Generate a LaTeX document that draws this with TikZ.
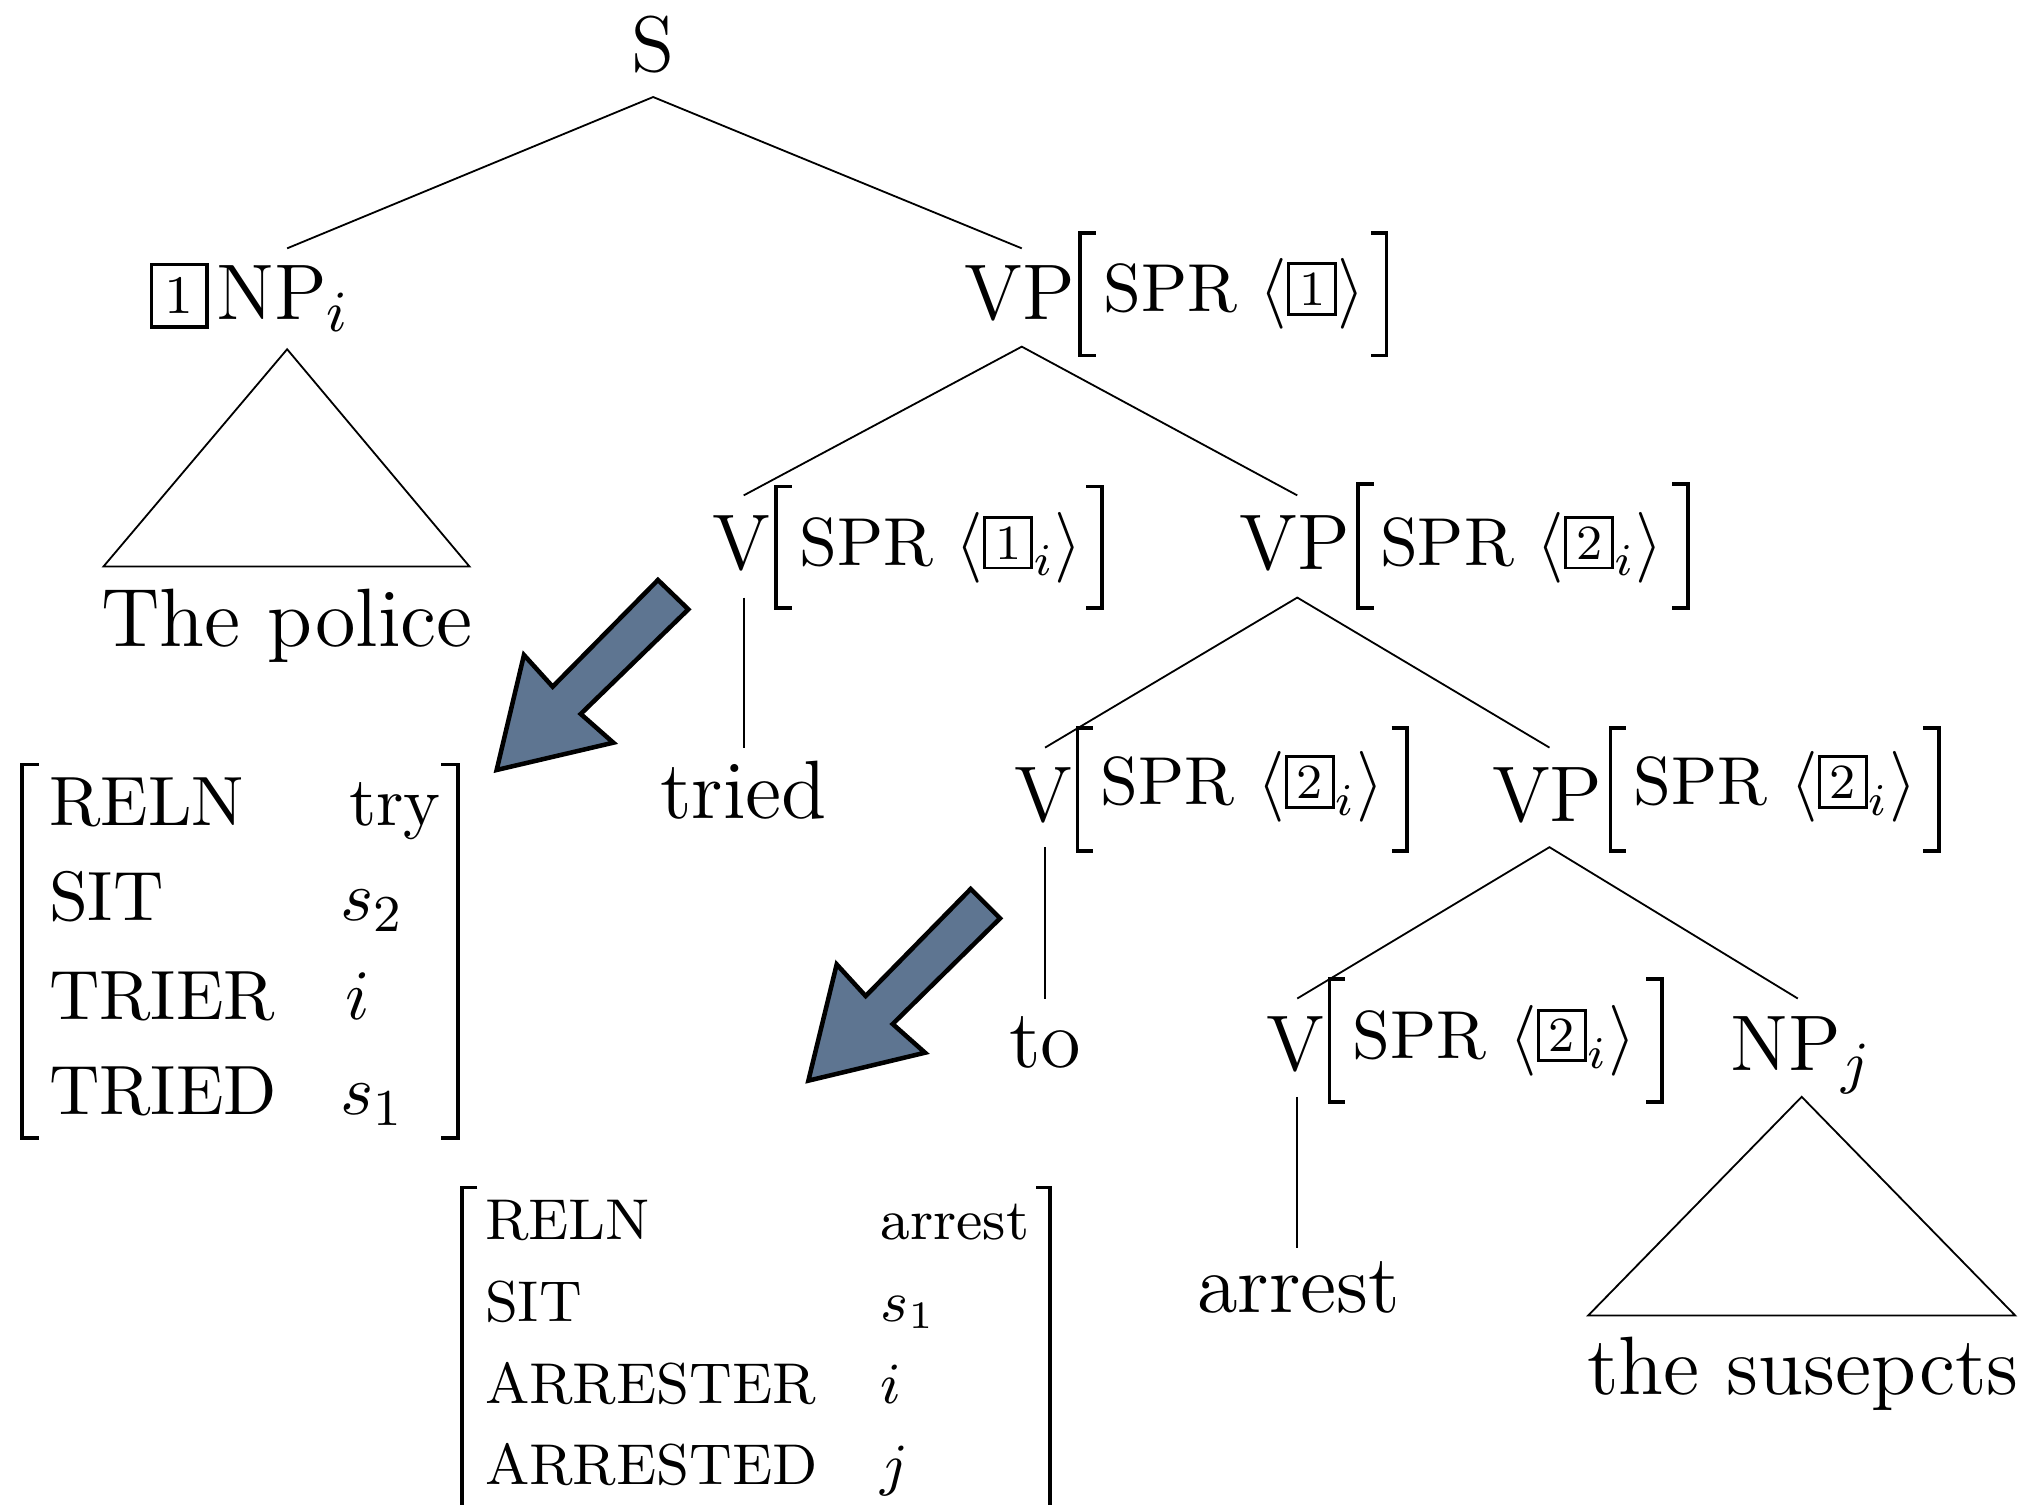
\documentclass[tikz,border=0pt]{standalone}
\definecolor{slate}{RGB}{94,117,145}
\newcommand\tb[1]{\raisebox{0.9pt}{\setlength\fboxsep{1.8pt}\setlength\fboxrule{0.5pt}\fbox{\fontsize{8.4}{9}\selectfont #1}}}
\newcommand\tbs[1]{\raisebox{0.95pt}{\setlength\fboxsep{1.15pt}\setlength\fboxrule{0.46pt}\fbox{\makebox[4.5pt]{\fontsize{7.6}{8}\selectfont #1}}}}
\tikzset{
  tl/.style={line width=0.28pt},
  lab/.style={anchor=base, inner sep=0pt, font=\fontsize{12.2}{14}\selectfont},
  leaf/.style={anchor=base, inner sep=0pt, font=\fontsize{12.8}{15}\selectfont},
  spr/.style={anchor=base west, inner sep=0pt, font=\fontsize{10.5}{12}\selectfont},
  avmA/.style={anchor=base west, inner sep=0pt, font=\fontsize{10.8}{13}\selectfont},
  avmB/.style={anchor=base west, inner sep=0pt, font=\fontsize{8.9}{11}\selectfont},
  brk/.style={line width=0.55pt},
  blockarrow/.style={fill=slate, draw=black, line width=0.7pt, line join=miter},
}
\begin{document}
\begin{tikzpicture}[x=0.2pt,y=-0.2pt]
\useasboundingbox (0,0) rectangle (1568,1163);
% ---------- tree labels ----------
\node[lab] (S) at (505,55) {S};
\node[lab,anchor=base west] (NP) at (115,247) {\tb{1}\kern1.2pt NP$_i$};
\node[lab,anchor=base east] (VP1) at (832,247) {VP};
\node[spr] (VP1a) at (852,241) {SPR $\langle$\tbs{1}$\rangle$};
\node[lab,anchor=base east] (V2) at (597,440) {V};
\node[spr] (V2a) at (617,437) {SPR $\langle$\tbs{1}$_i\rangle$};
\node[lab,anchor=base east] (VP2) at (1045,440) {VP};
\node[spr] (VP2a) at (1066,437) {SPR $\langle$\tbs{2}$_i\rangle$};
\node[lab,anchor=base east] (V3) at (830,635) {V};
\node[spr] (V3a) at (850,622) {SPR $\langle$\tbs{2}$_i\rangle$};
\node[lab,anchor=base east] (VP3) at (1240,635) {VP};
\node[spr] (VP3a) at (1262,622) {SPR $\langle$\tbs{2}$_i\rangle$};
\node[lab,anchor=base east] (V4) at (1025,828) {V};
\node[spr] (V4a) at (1045,818) {SPR $\langle$\tbs{2}$_i\rangle$};
\node[lab,anchor=base west] (NPj) at (1337,828) {NP$_j$};
% leaves
\node[leaf] (police) at (222,500) {The police};
\node[leaf] (tried) at (575,633) {tried};
\node[leaf] (to) at (808,825) {to};
\node[leaf] (arrest) at (1004,1015) {arrest};
\node[leaf] (suspects) at (1394,1078) {the susepcts};
% ---------- brackets of the SPR labels ----------
\foreach \l/\r/\t/\b in {835/1072/180/275, 600/852/376/470, 1050/1305/374/470, 833/1088/563/658, 1245/1499/563/658, 1028/1285/757/852}{
  \draw[brk] (\l+12,\t) -- (\l,\t) -- (\l,\b) -- (\l+12,\b);
  \draw[brk] (\r-12,\t) -- (\r,\t) -- (\r,\b) -- (\r-12,\b);
}
% ---------- attachment points ----------
\coordinate (S-b) at (505,75);
\coordinate (NP-t) at (222,192);
\coordinate (VP1-t) at (790,192);
\coordinate (VP1-b) at (790,268);
\coordinate (V2-t) at (575,383);
\coordinate (VP2-t) at (1003,383);
\coordinate (V2-b) at (575,462);
\coordinate (tried-t) at (575,578);
\coordinate (VP2-b) at (1003,462);
\coordinate (V3-t) at (808,578);
\coordinate (VP3-t) at (1198,578);
\coordinate (V3-b) at (808,655);
\coordinate (to-t) at (808,772);
\coordinate (VP3-b) at (1198,655);
\coordinate (V4-t) at (1003,772);
\coordinate (NPj-t) at (1390,772);
\coordinate (V4-b) at (1003,848);
\coordinate (arrest-t) at (1003,965);
\coordinate (NP-apex) at (222,270);
\coordinate (NP-bl) at (80,438);
\coordinate (NP-br) at (363,438);
\coordinate (NPj-apex) at (1393,848);
\coordinate (NPj-bl) at (1228,1017);
\coordinate (NPj-br) at (1558,1017);
% ---------- tree lines ----------
\draw[tl] (NP-t) -- (S-b) -- (VP1-t);
\draw[tl] (V2-t) -- (VP1-b) -- (VP2-t);
\draw[tl] (V2-b) -- (tried-t);
\draw[tl] (V3-t) -- (VP2-b) -- (VP3-t);
\draw[tl] (V3-b) -- (to-t);
\draw[tl] (V4-t) -- (VP3-b) -- (NPj-t);
\draw[tl] (V4-b) -- (arrest-t);
\draw[tl] (NP-apex) -- (NP-bl) -- (NP-br) -- cycle;
\draw[tl] (NPj-apex) -- (NPj-bl) -- (NPj-br) -- cycle;
% ---------- AVM 1 ----------
\draw[brk] (30,591) -- (17,591) -- (17,880) -- (30,880);
\draw[brk] (341,591) -- (354,591) -- (354,880) -- (341,880);
\node[avmA] (r1a) at (37,638) {RELN};
\node[avmA] (r1b) at (269,638) {try};
\node[avmA] (r2a) at (37,712) {SIT};
\node[avmA] (r2b) at (262,712) {$s_2$};
\node[avmA] (r3a) at (37,788) {TRIER};
\node[avmA] (r3b) at (266,788) {$i$};
\node[avmA] (r4a) at (37,862) {TRIED};
\node[avmA] (r4b) at (262,862) {$s_1$};
% ---------- AVM 2 ----------
\draw[brk] (369,918) -- (357,918) -- (357,1200);
\draw[brk] (801,918) -- (812,918) -- (812,1200);
\node[avmB] (q1a) at (374,958) {RELN};
\node[avmB] (q1b) at (680,958) {arrest};
\node[avmB] (q2a) at (374,1022) {SIT};
\node[avmB] (q2b) at (680,1022) {$s_1$};
\node[avmB] (q3a) at (374,1085) {ARRESTER};
\node[avmB] (q3b) at (680,1085) {$i$};
\node[avmB] (q4a) at (374,1148) {ARRESTED};
\node[avmB] (q4b) at (680,1148) {$j$};
% ---------- block arrows ----------
\draw[blockarrow] (508.7,448.4) -- (532.2,471.1) -- (449,552) -- (474.2,574.2) -- (384,595.3) -- (405.1,506.4) -- (427.3,530.9) -- cycle;
\draw[blockarrow] (750.5,687.3) -- (773.2,710) -- (690.2,791.7) -- (715.2,813.9) -- (625,835.5) -- (646.9,745.6) -- (669.3,770.1) -- cycle;
\end{tikzpicture}
\end{document}
